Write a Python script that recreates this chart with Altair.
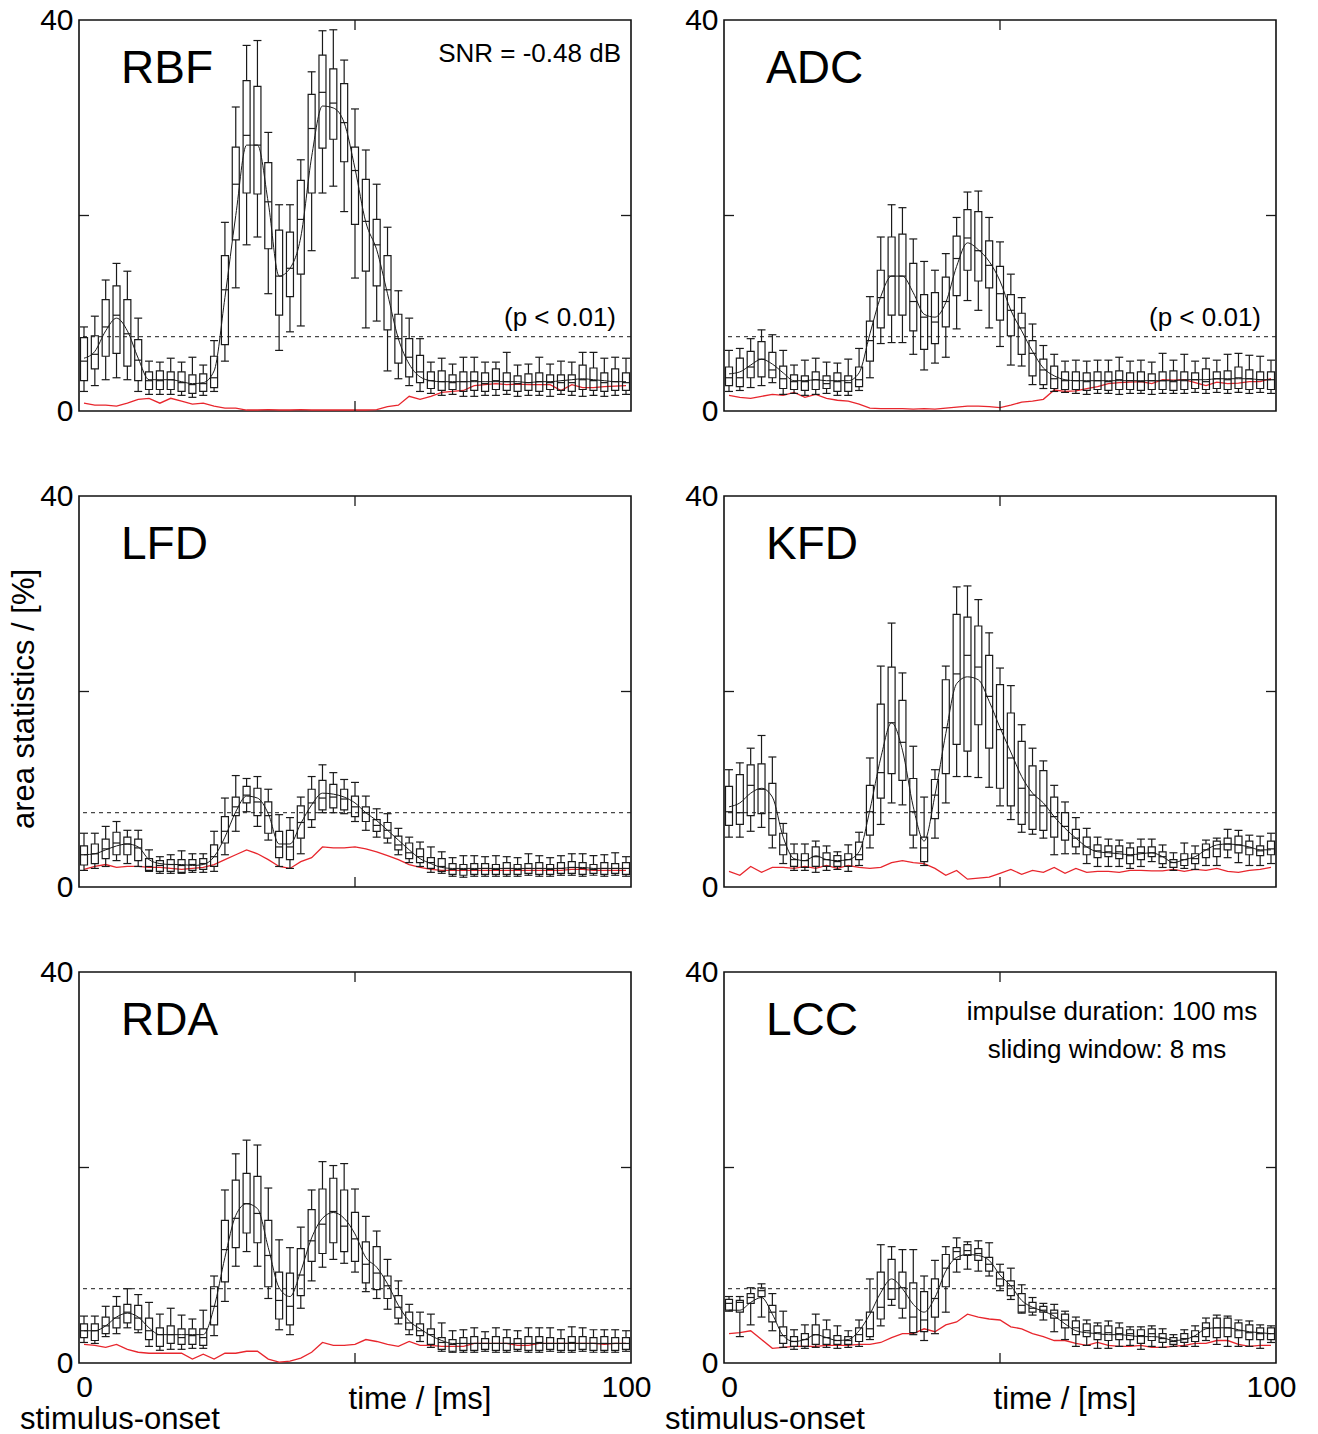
import altair as alt
import pandas as pd

T = list(range(0, 101, 2))

# ---------------- RBF ----------------
RBF_Q1 = [3.1,4.3,5.6,5.9,4.6,3.1,2.2,2.2,2.2,2.0,1.8,2.0,2.4,6.8,17.5,22.3,22.2,16.6,9.8,11.7,14.0,22.3,26.9,27.8,25.5,19.1,14.3,12.8,8.3,4.9,3.5,2.9,2.3, 2.1,2.2,2.0,2.1,2.0,2.2,2.1,2.0,2.1,2.0,2.2,2.1,2.0,2.2,2.1,2.0,2.1,2.1]
RBF_MED = [5.1,5.8,8.6,9.8,7.9,5.2,3.1,3.1,3.2,2.9,2.7,2.8,3.4,12.4,23.2,28.2,27.2,21.4,13.8,14.6,19.6,28.9,32.6,31.5,29.5,24.6,19.4,17.0,12.4,7.4,5.5,4.0,3.1, 3.0,2.9,3.0,3.1,2.8,3.1,3.0,2.8,2.9,3.0,2.9,2.9,2.9,3.2,3.1,2.9,3.0,2.9]
RBF_Q3 = [7.5,7.7,11.4,12.8,11.4,7.3,4.0,4.1,4.0,4.0,3.7,3.8,5.6,15.9,27.0,33.8,33.2,25.4,18.5,18.3,23.6,32.4,36.4,35.0,33.5,27.0,23.7,19.6,15.9,9.9,7.4,5.7,4.0, 4.1,3.7,4.0,4.0,3.9,4.3,3.9,3.6,3.8,3.9,3.7,3.7,3.7,4.7,4.4,3.9,4.3,3.9]
RBF_LO = [2.0,2.6,3.2,3.4,3.2,2.0,1.7,1.7,1.7,1.6,1.4,1.6,2.0,5.1,12.6,17.0,17.8,12.0,6.2,8.1,8.7,16.4,22.3,23.0,20.4,13.6,8.5,9.2,4.1,3.3,2.6,2.0,1.8, 1.6,1.7,1.5,1.5,1.6,1.6,1.7,1.5,1.6,1.6,1.5,1.7,1.6,1.5,1.6,1.5,1.6,1.7]
RBF_HI = [8.6,9.7,13.4,15.1,14.3,9.5,5.1,5.0,5.4,5.0,5.5,4.7,7.2,19.3,31.1,37.4,37.9,28.5,21.1,21.1,25.7,34.7,38.9,39.0,35.9,30.9,26.7,23.2,18.8,12.3,9.5,7.4,5.0, 5.4,4.8,5.5,5.5,5.0,5.0,6.0,4.7,4.8,5.5,4.8,5.1,5.0,6.0,6.0,5.4,5.5,5.4]
RBF_MEAN = [5.4,6.1,8.2,9.5,8.2,5.4,3.2,3.2,3.2,3.0,2.8,2.9,4.1,11.6,20.0,27.2,27.2,21.3,13.8,14.6,17.8,26.0,31.2,31.0,29.5,24.8,19.3,16.5,12.0,7.4,4.8,3.5,3.1, 3.0,3.0,3.0,3.0,3.0,3.0,3.0,3.0,2.9,3.0,3.0,3.1,3.2,3.3,3.2,3.1,3.0,3.0]
RBF_RED = [0.8,0.6,0.6,0.5,0.8,1.2,1.3,0.8,1.3,1.0,0.7,0.8,0.5,0.3,0.3,0.1,0.1,0.15,0.1,0.1,0.15,0.1,0.1,0.1,0.1,0.1,0.1,0.15,0.45,0.6,1.5,1.2,1.5, 1.9,2.0,2.1,2.6,2.7,2.8,2.7,2.75,2.7,2.7,2.7,2.1,2.7,2.4,2.4,2.5,2.55,2.6]

# ---------------- ADC ----------------
ADC_Q1 = [2.6,2.5,3.4,3.5,3.4,2.3,2.2,2.1,2.2,2.3,2.0,2.0,2.5,5.1,8.5,9.8,9.8,8.2,6.3,6.9,8.6,11.8,14.4,13.3,12.6,9.3,7.7,5.8,3.6,2.7,2.3,2.2, 2.2,2.1,2.2,2.1,2.2,2.2,2.1,2.2,2.2,2.1,2.2,2.3,2.2,2.3,2.2,2.3,2.2,2.3,2.2]
ADC_MED = [3.4,3.4,4.5,5.3,4.2,3.3,3.0,3.0,3.2,2.8,3.0,2.9,3.2,7.2,11.6,13.8,13.8,11.2,9.6,9.1,11.2,15.6,17.7,16.4,14.9,12.0,10.3,8.5,5.9,4.2,3.3,3.1, 3.1,3.0,3.1,3.0,3.2,3.1,3.0,3.1,3.1,3.0,3.1,3.2,3.0,3.3,3.2,3.4,3.3,3.2,3.2]
ADC_Q3 = [4.5,5.4,6.1,7.1,6.0,4.6,3.7,3.6,4.0,3.6,3.9,3.6,4.5,9.2,14.4,17.8,18.1,15.1,11.9,12.1,13.7,17.9,20.6,20.4,17.4,14.8,11.9,10.0,7.2,5.3,4.6,4.0, 4.0,3.9,4.0,4.0,4.1,3.9,4.0,3.8,4.0,4.1,4.0,3.9,4.3,4.0,4.1,4.5,4.2,4.0,4.0]
ADC_LO = [2.0,2.1,2.4,2.6,2.9,1.7,1.8,1.6,1.7,1.8,1.6,1.6,2.1,3.4,6.9,7.0,7.0,5.8,4.2,4.9,5.5,8.4,11.3,10.3,8.5,6.6,4.7,4.6,2.7,2.3,2.0,1.9, 1.8,1.7,1.8,1.8,1.7,1.8,1.8,1.7,1.8,1.8,1.8,1.9,1.8,1.9,1.8,1.9,1.8,1.9,1.8]
ADC_HI = [6.2,6.4,7.4,8.3,7.8,6.2,4.7,5.2,5.4,5.0,4.9,5.3,6.4,11.7,17.8,21.1,20.8,17.6,15.3,14.4,16.1,19.8,22.4,22.5,19.8,17.3,14.0,11.6,8.9,6.7,5.8,5.1, 5.2,5.1,5.2,5.2,5.5,5.1,5.2,5.0,5.9,5.2,5.8,5.1,5.4,5.2,5.8,5.9,5.7,5.6,5.2]
ADC_MEAN = [3.8,4.0,4.7,5.3,4.8,3.9,3.1,3.1,3.2,3.1,3.1,3.1,3.9,7.9,11.7,13.8,13.8,12.1,9.9,9.6,11.1,14.8,17.2,16.5,15.3,13.3,10.3,8.2,6.1,4.4,3.6,3.2, 3.1,3.1,3.1,3.1,3.1,3.1,3.1,3.1,3.1,3.1,3.2,3.2,3.2,3.3,3.3,3.3,3.3,3.2,3.2]
ADC_RED = [1.6,1.4,1.3,1.5,1.7,1.6,1.9,1.4,1.7,1.3,1.1,1.0,0.7,0.3,0.25,0.25,0.25,0.2,0.25,0.2,0.3,0.4,0.5,0.5,0.45,0.35,0.6,0.9,1.0,1.2,2.15,2.0, 2.05,2.3,2.5,2.8,2.9,2.95,3.0,2.8,3.2,3.15,3.2,2.9,2.6,2.95,2.8,2.85,3.0,3.0,3.3]

# ---------------- LFD ----------------
LFD_Q1 = [2.25,2.4,2.9,3.3,3.3,2.7,1.7,1.6,1.6,1.5,1.7,1.8,2.1,4.5,7.3,8.6,7.3,5.5,3.0,2.8,5.0,6.9,7.9,8.1,7.9,7.2,6.7,5.7,5.0,3.8,2.9,2.5,1.9,1.6, 1.3,1.2,1.3,1.3,1.3,1.3,1.3,1.4,1.3,1.3,1.4,1.4,1.3,1.4,1.3,1.4,1.3]
LFD_MED = [3.3,3.4,3.9,4.5,4.4,4.0,2.1,2.2,2.3,2.2,2.3,2.4,3.1,5.7,8.2,9.4,8.7,7.3,4.1,4.1,6.6,8.6,9.1,9.2,9.0,8.2,7.6,6.3,5.8,4.3,3.5,3.1,2.5,2.1, 1.8,1.8,1.8,1.9,1.8,1.9,1.8,1.9,1.9,1.8,1.9,2.0,1.9,1.8,1.9,1.9,1.9]
LFD_Q3 = [4.2,4.4,4.9,5.6,5.1,4.9,2.9,2.7,2.8,2.8,2.8,2.9,4.3,7.2,9.2,10.3,10.1,8.7,5.7,5.8,8.3,10.0,10.9,10.5,10.0,9.3,8.2,6.9,6.6,5.2,4.5,3.9,3.0,2.9, 2.4,2.3,2.4,2.4,2.3,2.5,2.3,2.4,2.5,2.3,2.5,2.6,2.5,2.3,2.5,2.4,2.5]
LFD_LO = [1.7,1.9,2.1,2.7,2.4,2.1,1.6,1.4,1.4,1.4,1.5,1.5,1.6,3.3,5.7,7.7,6.2,4.8,2.1,1.9,3.4,6.1,7.6,7.6,7.5,6.7,5.8,5.1,4.5,3.3,2.5,2.1,1.5,1.4, 1.1,1.0,1.1,1.1,1.1,1.1,1.1,1.2,1.1,1.1,1.2,1.2,1.1,1.2,1.1,1.2,1.1]
LFD_HI = [5.5,5.5,6.2,6.7,5.8,5.8,3.8,3.1,3.3,3.7,3.4,3.4,5.7,9.1,11.4,11.1,11.3,10.0,7.4,7.1,9.2,11.3,12.5,11.7,11.0,10.7,9.3,8.0,7.5,6.0,5.1,4.6,4.1,3.6, 3.0,3.2,3.2,3.1,3.2,3.1,3.0,3.4,3.2,3.0,3.2,3.4,3.4,3.2,3.3,3.5,3.1]
LFD_MEAN = [3.3,3.4,3.8,4.2,4.4,4.1,2.8,2.4,2.3,2.3,2.2,2.3,3.1,5.1,7.7,9.3,9.1,7.5,4.4,4.4,6.5,8.4,9.6,9.5,9.2,8.6,7.6,6.8,5.8,4.8,3.8,2.9,2.4,2.0, 1.9,1.9,1.9,1.9,1.9,1.9,1.9,1.9,1.9,1.9,1.9,2.0,2.0,1.9,1.9,1.9,1.9]
LFD_RED = [1.8,2.1,2.3,2.0,2.1,2.1,2.0,2.0,1.9,1.8,1.9,2.0,2.3,2.8,3.3,3.8,3.4,2.8,2.1,1.9,2.6,3.0,4.1,4.0,4.0,4.1,3.9,3.6,3.2,2.8,2.3,2.0,1.8,1.7, 1.7,1.7,1.7,1.7,1.7,1.7,1.7,1.7,1.7,1.7,1.7,1.8,1.8,1.7,1.7,1.7,1.7]

# ---------------- KFD ----------------
KFD_Q1 = [6.3,6.4,7.3,7.5,5.3,3.3,2.1,2.0,2.1,2.1,2.1,2.1,2.8,5.3,9.1,11.6,10.9,5.3,2.6,7.0,11.6,14.6,13.9,16.6,14.2,10.1,8.3,6.4,5.9,5.8,5.1,4.8,4.1,3.3,3.0,3.1,2.9,2.4,2.8,3.1,2.4,2.0,2.2,2.4,3.0,3.1,3.8,3.5,3.3,3.2,3.3]
KFD_MED = [7.7,7.6,10.4,10.0,7.0,4.3,2.8,2.7,3.1,2.8,2.6,2.8,3.3,7.7,11.7,16.8,14.8,7.7,4.0,9.4,16.3,21.8,23.7,22.5,19.5,16.1,13.2,10.1,9.4,8.3,7.2,6.2,5.0,4.1,3.7,3.6,3.6,3.2,3.5,3.5,3.1,2.5,2.8,2.9,3.8,3.9,4.4,4.3,4.0,3.7,3.9]
KFD_Q3 = [10.3,11.5,12.5,12.6,10.6,5.5,3.4,3.4,4.1,3.5,3.2,3.4,4.6,10.4,18.7,22.5,19.1,11.1,5.1,11.0,21.2,27.9,27.6,26.7,23.7,20.7,17.8,14.9,12.4,11.9,9.2,7.6,5.9,5.1,4.3,4.2,4.2,4.0,4.1,4.1,3.6,2.8,3.4,3.4,4.4,4.7,5.0,5.2,4.7,4.2,4.7]
KFD_LO = [5.1,5.1,5.7,6.1,4.0,2.4,1.7,1.7,1.5,1.7,1.8,1.6,2.2,4.0,6.4,8.6,8.4,4.0,2.2,5.0,8.6,11.3,11.3,11.2,10.2,8.3,6.9,5.6,5.4,5.0,3.3,3.4,3.4,2.4,2.1,2.1,2.1,1.9,2.1,2.6,2.0,1.7,1.9,1.8,2.2,2.2,3.0,2.5,2.2,2.2,2.4]
KFD_HI = [12.0,12.7,14.2,15.5,13.3,6.5,4.4,4.4,4.7,4.2,3.6,4.3,5.6,13.2,22.6,27.0,21.9,14.4,9.2,12.0,22.6,30.7,30.8,29.4,26.0,22.4,20.6,16.6,14.2,12.9,10.4,8.7,7.1,6.0,5.1,4.9,4.8,4.5,4.9,4.9,4.3,3.5,4.5,4.2,4.8,5.0,5.9,5.8,5.3,5.2,5.5]
KFD_MEAN = [8.2,8.6,9.6,10.1,9.2,5.1,2.9,2.7,3.2,2.8,2.7,2.8,3.6,7.9,13.2,16.8,14.0,8.2,4.7,9.4,15.7,20.8,21.5,21.2,19.0,16.3,13.8,11.3,9.6,8.6,7.2,6.0,5.0,4.1,3.6,3.5,3.4,3.3,3.4,3.5,3.1,2.5,2.8,3.1,3.8,4.3,4.4,4.3,4.1,3.8,3.8]
KFD_RED = [1.6,1.2,2.1,1.5,2.0,2.0,1.9,2.1,1.9,2.2,1.9,2.2,2.0,1.9,2.0,2.5,2.7,2.5,2.4,1.9,1.2,1.7,0.8,0.9,1.0,1.4,1.8,1.3,1.7,1.5,2.0,1.4,1.9,1.5,1.6,1.6,1.5,1.7,1.7,1.65,1.65,1.8,1.6,1.8,1.7,1.9,1.6,1.5,1.7,1.8,2.0]

# ---------------- RDA ----------------
RDA_Q1 = [2.6,2.3,3.0,3.6,4.1,3.4,2.4,1.7,2.0,1.9,1.9,1.8,3.9,8.3,11.8,13.3,12.3,7.8,4.5,3.9,6.9,10.4,11.2,12.3,11.4,10.4,8.2,7.5,6.6,4.6,3.4,2.8,1.9,1.4, 1.2,1.3,1.3,1.4,1.3,1.3,1.4,1.3,1.3,1.4,1.3,1.3,1.4,1.3,1.3,1.3,1.4]
RDA_MED = [3.3,3.3,3.8,4.6,5.2,4.6,3.3,2.9,2.9,2.6,2.8,2.6,5.8,11.6,14.8,16.3,15.3,11.0,6.4,5.8,9.0,12.5,14.2,15.5,14.0,12.7,10.1,9.2,7.9,5.7,4.1,3.3,2.9,2.1, 1.9,2.0,2.0,2.0,2.0,2.0,2.0,2.0,2.1,2.0,2.0,2.1,2.0,2.0,2.0,2.0,2.0]
RDA_Q3 = [4.0,4.0,4.7,5.8,6.0,5.9,4.6,3.6,3.8,3.5,3.5,3.5,7.8,14.6,18.7,19.4,19.1,14.6,9.3,9.2,11.7,15.7,17.8,18.9,17.7,15.4,12.4,11.9,8.9,6.9,5.2,4.0,3.5,2.6, 2.4,2.6,2.7,2.5,2.7,2.6,2.5,2.7,2.7,2.6,2.5,2.7,2.7,2.6,2.7,2.6,2.6]
RDA_LO = [2.1,2.0,2.7,3.0,3.6,3.1,1.7,1.3,1.4,1.4,1.5,1.5,2.8,6.3,9.9,11.4,9.9,6.6,3.4,2.9,5.6,8.4,9.8,10.6,10.2,9.3,7.3,6.6,5.5,4.0,2.9,2.2,1.6,1.2, 1.1,1.1,1.1,1.2,1.1,1.1,1.2,1.1,1.1,1.2,1.1,1.1,1.2,1.1,1.1,1.1,1.2]
RDA_HI = [4.8,4.8,5.8,6.8,7.6,7.0,6.2,5.0,5.6,4.9,4.5,5.4,8.9,17.7,21.4,22.8,22.3,17.9,12.6,11.8,13.9,17.7,20.6,20.2,20.4,17.8,15.0,13.5,10.6,8.4,6.0,5.2,5.0,4.1, 3.3,3.4,3.6,3.2,3.6,3.4,3.3,3.6,3.6,3.6,3.4,3.7,3.6,3.4,3.4,3.4,3.3]
RDA_MEAN = [3.3,3.3,3.8,4.7,5.1,4.7,3.6,2.9,2.9,2.9,2.9,2.9,5.7,10.8,15.1,16.3,15.8,11.8,7.7,6.8,9.4,12.8,14.8,15.4,14.8,13.2,10.8,9.8,8.1,5.9,4.3,3.5,2.8,2.3, 2.0,2.0,2.0,2.0,2.0,2.0,2.0,2.0,2.0,2.0,2.0,2.0,2.0,2.0,2.0,2.0,2.0]
RDA_RED = [1.9,1.8,1.6,1.9,1.4,1.1,1.0,1.0,1.0,1.0,0.4,0.9,0.4,1.0,1.0,1.2,1.2,0.4,0.1,0.2,0.5,1.1,2.1,1.8,1.8,1.9,2.4,2.2,1.9,1.7,2.2,1.8,1.8,1.7, 1.7,1.7,2.0,2.0,2.0,2.0,1.8,1.8,2.0,2.0,2.0,2.0,2.0,2.0,1.9,2.0,2.0]

# ---------------- LCC ----------------
LCC_Q1 = [5.4,5.2,6.1,6.8,4.2,2.0,1.7,1.7,1.9,1.9,1.9,1.9,2.2,2.7,4.5,6.5,5.6,3.1,3.2,4.7,7.8,10.6,11.0,10.5,9.4,7.9,6.9,5.2,5.2,5.2,4.6,3.6,2.9,2.7,2.4,2.3,2.4,2.4,2.0,2.3,2.1,1.9,2.1,2.2,2.7,2.6,2.7,2.6,2.4,2.4,2.4]
LCC_MED = [6.1,6.2,6.7,7.4,5.2,2.8,2.2,2.4,2.9,2.6,2.3,2.3,2.9,3.5,5.7,7.6,7.7,4.7,4.4,6.6,9.7,11.4,11.5,11.2,10.1,8.6,7.9,5.9,5.6,5.4,5.1,4.4,3.6,3.3,3.1,3.1,3.0,3.0,2.8,3.0,2.5,2.2,2.5,2.7,3.6,3.6,3.6,3.3,3.1,3.0,3.0]
LCC_Q3 = [6.5,6.4,7.1,7.7,5.9,3.7,2.7,3.0,3.9,3.4,2.8,2.7,3.6,5.2,9.3,10.6,9.3,8.2,7.3,8.6,11.1,11.8,12.1,11.7,10.8,9.3,8.4,7.1,6.2,5.8,5.4,5.0,4.3,4.0,3.8,3.8,3.6,3.4,3.4,3.5,3.0,2.6,3.0,3.3,4.1,4.6,4.6,4.1,3.9,3.6,3.6]
LCC_LO = [5.3,2.7,3.9,4.7,3.3,1.6,1.4,1.5,1.6,1.6,1.5,1.6,1.7,2.4,3.8,5.9,4.6,2.9,2.3,3.0,5.2,9.3,9.6,9.4,8.9,7.4,6.5,5.1,4.9,4.4,3.2,2.4,1.7,1.8,1.5,1.5,1.7,1.8,1.4,1.7,1.6,1.7,1.7,1.7,2.3,1.9,1.7,1.7,1.7,1.5,2.1]
LCC_HI = [6.8,6.8,7.7,8.1,7.1,5.3,3.4,3.9,5.0,4.4,3.8,3.3,4.4,8.6,12.1,11.9,11.6,11.6,8.9,10.5,11.9,12.8,12.4,12.5,12.3,10.1,9.7,8.0,6.7,6.1,6.0,5.3,4.7,4.4,4.1,4.3,4.1,3.7,3.7,3.8,3.5,2.9,3.4,3.8,4.6,4.9,4.8,4.4,4.3,3.9,3.8]
LCC_MEAN = [5.4,5.4,6.2,6.7,5.0,2.8,2.2,2.4,2.9,2.6,2.3,2.4,3.3,5.0,7.2,8.6,7.6,6.0,5.2,6.7,9.4,10.8,11.1,11.0,10.5,9.0,7.9,6.4,5.7,5.3,4.8,4.0,3.3,3.1,3.0,2.9,2.9,2.8,2.7,2.7,2.6,2.3,2.4,2.8,3.5,3.6,3.6,3.4,3.2,3.1,3.0]
LCC_RED = [3.0,3.1,3.3,2.4,1.5,1.6,1.7,1.7,1.7,1.8,1.8,1.8,1.9,1.9,2.1,2.6,3.0,3.0,3.5,3.2,3.9,4.2,5.0,4.7,4.5,4.4,3.7,3.5,3.0,2.7,2.3,2.3,2.0,1.8,2.1,1.8,1.7,1.7,1.8,1.6,1.6,1.7,1.8,2.0,2.0,2.3,2.3,1.9,1.7,1.8,1.8]

THRESHOLD = [7.6]
Y_TICKS = [20]
X_TICKS = [50]

FONT = "Liberation Sans"
W, H = 552, 391
BLACK = "#1a1a1a"
REDC = "#e8262d"
LAB = 30


def panel(name, q1, med, q3, lo, hi, mean, red, row, col, notes):
    df = pd.DataFrame({"t": T, "q1": q1, "med": med, "q3": q3, "lo": lo,
                       "hi": hi, "mean": mean, "red": red})
    xscale = alt.Scale(domain=[0, 100], nice=False, zero=False)
    yscale = alt.Scale(domain=[0, 40], nice=False)
    if row == 2:
        xaxis = alt.Axis(values=[0, 100], ticks=False, domain=False, grid=False,
                         labelFontSize=LAB, labelFont=FONT, labelColor="black",
                         labelPadding=9, title=None, labelFlush=False)
    else:
        xaxis = None
    yaxis = alt.Axis(values=[0, 40], ticks=False, domain=False, grid=False,
                     labelFontSize=LAB, labelFont=FONT, labelColor="black",
                     labelPadding=6, title=None, labelFlush=False)

    def X(f="t"):
        return alt.X(f"{f}:Q", scale=xscale, axis=xaxis)

    def Y(f):
        return alt.Y(f"{f}:Q", scale=yscale, axis=yaxis)

    base = alt.Chart(df)
    layers = [
        base.mark_line(color=REDC, strokeWidth=1.3).encode(x=X(), y=Y("red")),
        alt.Chart(pd.DataFrame({"v": THRESHOLD})).mark_rule(
            color=BLACK, strokeDash=[4, 4], strokeWidth=1).encode(y=Y("v")),
        base.mark_rule(color=BLACK, strokeWidth=1.2).encode(
            x=X(), y=Y("lo"), y2=alt.Y2("q1:Q")),
        base.mark_rule(color=BLACK, strokeWidth=1.2).encode(
            x=X(), y=Y("q3"), y2=alt.Y2("hi:Q")),
        base.mark_bar(size=7, fillOpacity=0, stroke=BLACK, strokeWidth=1.2).encode(
            x=X(), y=Y("q1"), y2=alt.Y2("q3:Q")),
        base.mark_tick(orient="horizontal", size=7, thickness=1.2, color=BLACK,
                       opacity=1).encode(x=X(), y=Y("med")),
        base.mark_tick(orient="horizontal", size=8, thickness=1.2, color=BLACK,
                       opacity=1).encode(x=X(), y=Y("lo")),
        base.mark_tick(orient="horizontal", size=8, thickness=1.2, color=BLACK,
                       opacity=1).encode(x=X(), y=Y("hi")),
        base.mark_line(color=BLACK, strokeWidth=1, interpolate="monotone").encode(
            x=X(), y=Y("mean")),
    ]
    yt = alt.Chart(pd.DataFrame({"v": Y_TICKS}))
    xt = alt.Chart(pd.DataFrame({"v": X_TICKS}))
    layers += [
        yt.mark_rule(color=BLACK, strokeWidth=1.3).encode(
            y=Y("v"), x=alt.value(0), x2=alt.value(10)),
        yt.mark_rule(color=BLACK, strokeWidth=1.3).encode(
            y=Y("v"), x=alt.value(W - 10), x2=alt.value(W)),
        xt.mark_rule(color=BLACK, strokeWidth=1.3).encode(
            x=X("v"), y=alt.value(0), y2=alt.value(10)),
        xt.mark_rule(color=BLACK, strokeWidth=1.3).encode(
            x=X("v"), y=alt.value(H - 10), y2=alt.value(H)),
    ]
    layers.append(
        alt.Chart(pd.DataFrame({"s": [name]})).mark_text(
            align="left", baseline="alphabetic", fontSize=46, font=FONT,
            color="black").encode(x=alt.value(42), y=alt.value(63), text="s:N"))
    for (s, px, py, al, fs, ang) in notes:
        kw = dict(align=al, baseline="alphabetic", fontSize=fs, font=FONT, color="black")
        if ang:
            kw["angle"] = ang
            kw["baseline"] = "middle"
        layers.append(
            alt.Chart(pd.DataFrame({"s": [s]})).mark_text(**kw).encode(
                x=alt.value(px), y=alt.value(py), text="s:N"))
    return alt.layer(*layers).properties(width=W, height=H)


P_NOTE = ("(p < 0.01)", W - 15, 306, "right", 26, 0)
BOTTOM = [("time / [ms]", 341, 437, "center", 31, 0),
          ("stimulus-onset", -59, 457, "left", 31, 0)]

panels = [
    panel("RBF", RBF_Q1, RBF_MED, RBF_Q3, RBF_LO, RBF_HI, RBF_MEAN, RBF_RED, 0, 0,
          [("SNR = -0.48 dB", W - 10, 42, "right", 26, 0), P_NOTE]),
    panel("ADC", ADC_Q1, ADC_MED, ADC_Q3, ADC_LO, ADC_HI, ADC_MEAN, ADC_RED, 0, 1,
          [P_NOTE]),
    panel("LFD", LFD_Q1, LFD_MED, LFD_Q3, LFD_LO, LFD_HI, LFD_MEAN, LFD_RED, 1, 0,
          [("area statistics / [%]", -54, 203, "center", 31, 270)]),
    panel("KFD", KFD_Q1, KFD_MED, KFD_Q3, KFD_LO, KFD_HI, KFD_MEAN, KFD_RED, 1, 1, []),
    panel("RDA", RDA_Q1, RDA_MED, RDA_Q3, RDA_LO, RDA_HI, RDA_MEAN, RDA_RED, 2, 0, BOTTOM),
    panel("LCC", LCC_Q1, LCC_MED, LCC_Q3, LCC_LO, LCC_HI, LCC_MEAN, LCC_RED, 2, 1,
          BOTTOM + [("impulse duration: 100 ms", 388, 48, "center", 26, 0),
                    ("sliding window: 8 ms", 383, 86, "center", 26, 0)]),
]

chart = alt.concat(*panels, columns=2, spacing={"row": 85, "column": 93},
                   bounds="flush").properties(
    padding={"left": 8, "top": 4, "right": 5, "bottom": 2}
).configure(
    font=FONT, background="white"
).configure_view(stroke="#111111", strokeWidth=1.6)

chart.save("out.html", embed_options={"renderer": "svg", "actions": False})
